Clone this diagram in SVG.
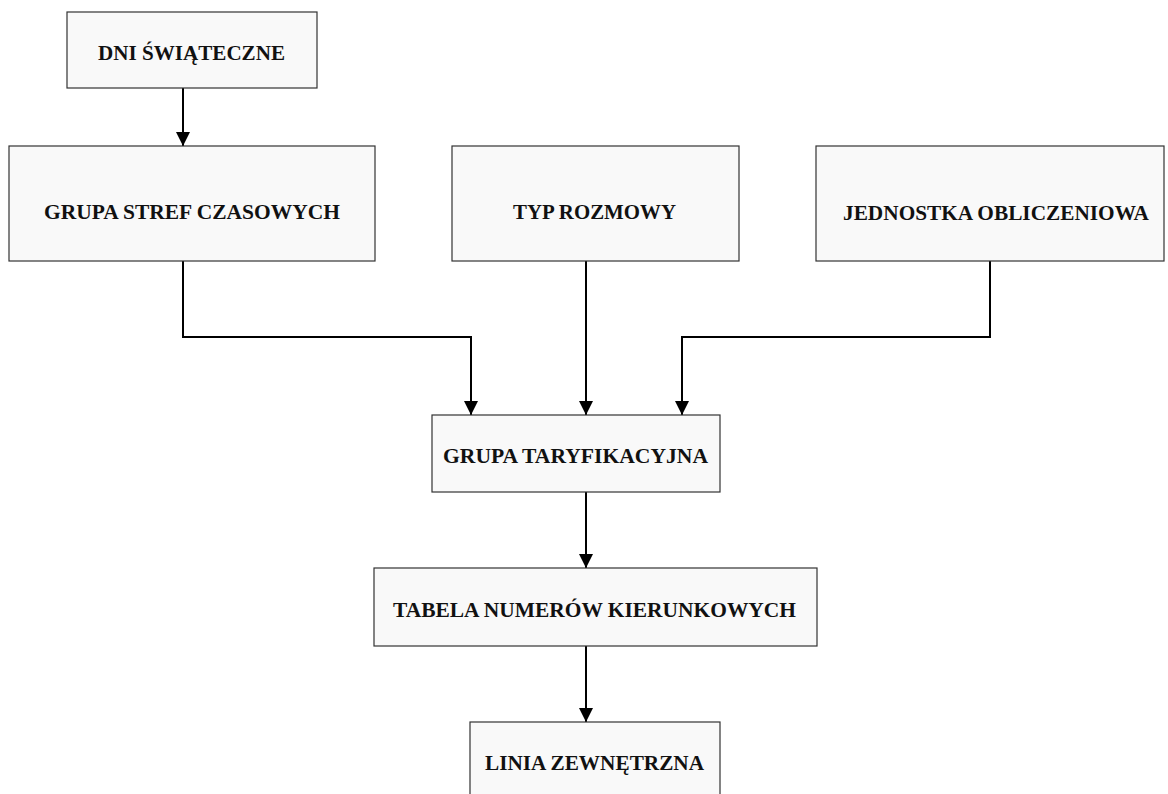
<svg xmlns="http://www.w3.org/2000/svg" width="1168" height="794" viewBox="0 0 1168 794">
<defs>
<style>
.box{fill:#f9f9f9;stroke:#333;stroke-width:1.2}
.lbl{font-family:"Liberation Serif","Times New Roman",serif;font-weight:bold;font-size:22px;fill:#111;text-anchor:middle}
.con{fill:none;stroke:#000;stroke-width:2;marker-end:url(#ah)}
</style>
<marker id="ah" markerUnits="userSpaceOnUse" markerWidth="14" markerHeight="14" viewBox="0 0 14 14" refX="7" refY="14" orient="0">
<path d="M0,0 L14,0 L7,14 Z" fill="#000"/>
</marker>
</defs>
<rect width="1168" height="794" fill="#fff"/>
<g id="connectors">
<path class="con" d="M183,88 V146"/>
<path class="con" d="M183,261 V337 H471 V415"/>
<path class="con" d="M586,261 V415"/>
<path class="con" d="M990,261 V337 H682 V415"/>
<path class="con" d="M586,492 V568"/>
<path class="con" d="M586,646 V722"/>
</g>
<g id="dni">
<rect class="box" x="67" y="12" width="250" height="76"/>
<text class="lbl" x="191.5" y="60" textLength="187" lengthAdjust="spacingAndGlyphs">DNI ŚWIĄTECZNE</text>
</g>
<g id="strefy">
<rect class="box" x="9" y="146" width="366" height="115"/>
<text class="lbl" x="192" y="219" textLength="296" lengthAdjust="spacingAndGlyphs">GRUPA STREF CZASOWYCH</text>
</g>
<g id="typ">
<rect class="box" x="452" y="146" width="287" height="115"/>
<text class="lbl" x="594.5" y="219" textLength="163" lengthAdjust="spacingAndGlyphs">TYP ROZMOWY</text>
</g>
<g id="jednostka">
<rect class="box" x="816" y="146" width="348" height="115"/>
<text class="lbl" x="996" y="220" textLength="306" lengthAdjust="spacingAndGlyphs">JEDNOSTKA OBLICZENIOWA</text>
</g>
<g id="taryf">
<rect class="box" x="432" y="415" width="288" height="77"/>
<text class="lbl" x="575.5" y="463" textLength="265" lengthAdjust="spacingAndGlyphs">GRUPA TARYFIKACYJNA</text>
</g>
<g id="tabela">
<rect class="box" x="374" y="568" width="443" height="78"/>
<text class="lbl" x="594.5" y="617" textLength="403" lengthAdjust="spacingAndGlyphs">TABELA NUMERÓW KIERUNKOWYCH</text>
</g>
<g id="linia">
<rect class="box" x="470" y="722" width="250" height="90"/>
<text class="lbl" x="594.5" y="770" textLength="219" lengthAdjust="spacingAndGlyphs">LINIA ZEWNĘTRZNA</text>
</g>
</svg>
